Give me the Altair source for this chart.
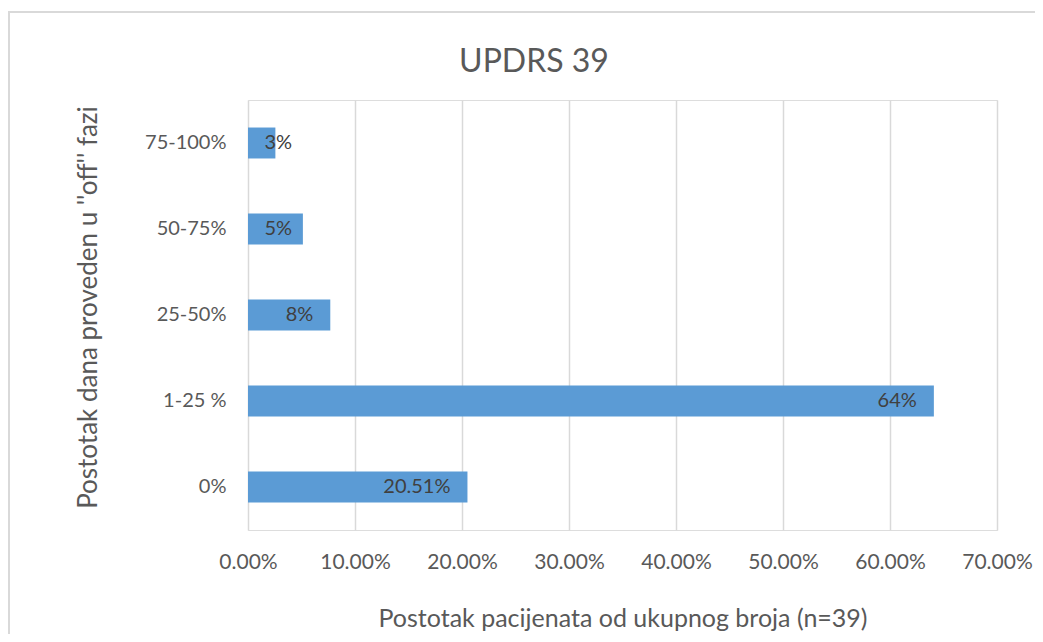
import altair as alt
import pandas as pd

categories = ["75-100%", "50-75%", "25-50%", "1-25 %", "0%"]
shares = [0.0256, 0.0513, 0.0769, 0.6410, 0.2051]
labels = ["3%", "5%", "8%", "64%", "20.51%"]
x_ticks = [0.0, 0.1, 0.2, 0.3, 0.4, 0.5, 0.6, 0.7]
chart_title = ["UPDRS 39"]

df = pd.DataFrame({"kat": categories, "udio": shares, "oznaka": labels})
tdf = pd.DataFrame({"t": chart_title})

FONT = "Lato"
TXT = "#595959"

y_enc = alt.Y(
    "kat:N",
    sort=categories,
    scale=alt.Scale(paddingInner=0.64, paddingOuter=0.32),
    axis=alt.Axis(
        title="Postotak dana proveden u ''off'' fazi",
        titleX=-160,
        titleY=207,
        titleAngle=-90,
        titleAlign="center",
        titleBaseline="middle",
        titleFontSize=26,
        titleFontWeight="normal",
        titleColor=TXT,
        titleFont=FONT,
        labelFontSize=20,
        labelColor=TXT,
        labelFont=FONT,
        labelPadding=22,
        ticks=False,
        domain=False,
        grid=False,
    ),
)

x_scale = alt.Scale(domain=[0, 0.7], nice=False)

bars = alt.Chart(df).mark_bar(color="#5B9BD5").encode(
    x=alt.X(
        "udio:Q",
        scale=x_scale,
        axis=alt.Axis(
            values=x_ticks,
            format=".2%",
            title="Postotak pacijenata od ukupnog broja (n=39)",
            titleFontSize=25,
            titleFontWeight="normal",
            titleColor=TXT,
            titleFont=FONT,
            titlePadding=34,
            labelFontSize=21,
            labelColor=TXT,
            labelFont=FONT,
            labelPadding=21,
            labelFlush=False,
            labelOverlap=False,
            ticks=False,
            domain=False,
            grid=True,
            gridColor="#D9D9D9",
            gridWidth=1.5,
        ),
    ),
    y=y_enc,
)

text = alt.Chart(df).transform_calculate(
    kraj="max(datum.udio - 0.0159, 0.0412)"
).mark_text(
    align="right", baseline="middle", fontSize=20, color="#404040", font=FONT
).encode(
    x=alt.X("kraj:Q", scale=x_scale),
    y=alt.Y("kat:N", sort=categories),
    text="oznaka:N",
)

title = alt.Chart(tdf).mark_text(
    align="center", baseline="alphabetic", fontSize=32, color=TXT, font=FONT
).encode(x=alt.value(286), y=alt.value(-28), text="t:N")

border_top = alt.Chart(df).mark_rule(color="#D9D9D9", strokeWidth=2).encode(
    x=alt.value(-240), x2=alt.value(787), y=alt.value(-88)
)
border_left = alt.Chart(df).mark_rule(color="#D9D9D9", strokeWidth=2).encode(
    x=alt.value(-239), y=alt.value(-88), y2=alt.value(534)
)

chart = (
    alt.layer(bars, text, title, border_top, border_left)
    .properties(
        width=749,
        height=430,
        autosize=alt.AutoSizeParams(type="none"),
        padding={"left": 240, "top": 92, "right": 38, "bottom": 104},
    )
    .configure_view(stroke=None)
    .configure(background="white")
)

chart.save("out.html", embed_options={"renderer": "svg", "actions": False})
